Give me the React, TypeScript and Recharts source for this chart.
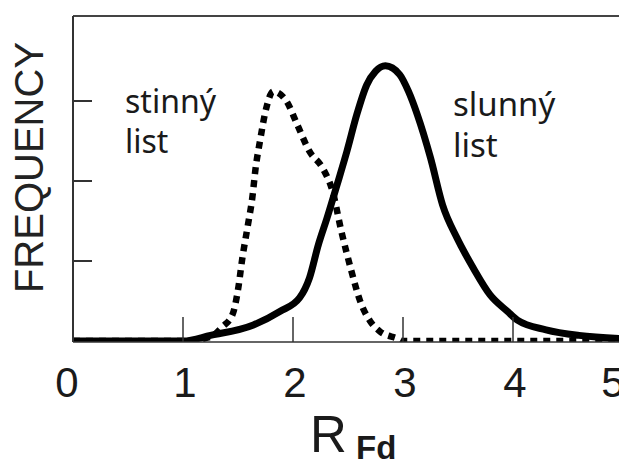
import React from 'react';
import { LineChart, Line, XAxis, YAxis, ReferenceLine } from 'recharts';

const xTicks = [0, 1, 2, 3, 4, 5];
const yTicks = [1, 2, 3];

// slunný list (solid)
const sunX = [0, 1.0, 1.25, 1.64, 1.88, 2.06, 2.15, 2.23, 2.31, 2.4, 2.49, 2.58, 2.67, 2.75, 2.84, 2.97, 3.05, 3.13, 3.25, 3.36, 3.49, 3.64, 3.79, 3.95, 4.04, 4.3, 4.6, 5.0];
const sunY = [0, 0, 0.07, 0.2, 0.37, 0.54, 0.79, 1.2, 1.54, 1.95, 2.37, 2.83, 3.2, 3.37, 3.44, 3.33, 3.12, 2.83, 2.29, 1.7, 1.29, 0.91, 0.58, 0.37, 0.26, 0.14, 0.07, 0.03];

// stinný list (dotted)
const shadeX = [0, 1.0, 1.25, 1.36, 1.45, 1.5, 1.54, 1.59, 1.63, 1.66, 1.7, 1.75, 1.82, 1.94, 2.04, 2.15, 2.27, 2.36, 2.44, 2.53, 2.61, 2.7, 2.79, 2.95, 3.0, 5.0];
const shadeY = [0, 0, 0.05, 0.18, 0.33, 0.64, 1.04, 1.45, 1.79, 2.16, 2.5, 2.87, 3.12, 3.0, 2.7, 2.37, 2.16, 1.87, 1.37, 0.88, 0.5, 0.25, 0.12, 0.03, 0, 0];

const sunData = sunX.map((x, i) => ({ x, y: sunY[i] }));
const shadeData = shadeX.map((x, i) => ({ x, y: shadeY[i] }));

const AX_FONT = 'Liberation Sans, Arial, Helvetica, sans-serif';
const NOTE_FONT = '"Noto Sans", "Open Sans", sans-serif';
const INK = '#1a1a1a';

const XTick = (props: any) => {
  const { x, y, payload } = props;
  const v = payload.value;
  const dx = v === 0 ? -6 : v === 5 ? -10 : 2;
  return (
    <g>
      {v > 0 && v < 5 && (
        <line x1={x} x2={x} y1={y} y2={y - 25} stroke="#333" strokeWidth={1.5} />
      )}
      <text x={x + dx} y={y + 55} textAnchor="middle" fontSize={42} fontFamily={AX_FONT} fill={INK}>
        {v}
      </text>
    </g>
  );
};

const YTick = (props: any) => {
  const { x, y } = props;
  return <line x1={x} x2={x + 19} y1={y} y2={y} stroke="#333" strokeWidth={2} />;
};

export default function App() {
  return (
    <LineChart
      width={619}
      height={460}
      margin={{ top: 8, right: 4, left: 0, bottom: 0 }}
      style={{ background: '#fff' }}
    >
      <XAxis
        type="number"
        dataKey="x"
        domain={[0, 5]}
        ticks={xTicks}
        allowDataOverflow
        height={126}
        tickSize={0}
        tickMargin={0}
        tick={<XTick />}
        axisLine={{ stroke: '#333', strokeWidth: 1.5 }}
        tickLine={false}
        interval={0}
      />
      <YAxis
        type="number"
        domain={[-0.0125, 4.0625]}
        ticks={yTicks}
        allowDataOverflow
        width={65}
        tickSize={0}
        tickMargin={0}
        tick={<YTick />}
        axisLine={{ stroke: '#333', strokeWidth: 2 }}
        tickLine={false}
        interval={0}
      />
      <ReferenceLine y={4.0625} stroke="#444" strokeWidth={2} ifOverflow="extendDomain" />
      <ReferenceLine x={5} stroke="#444" strokeWidth={2} ifOverflow="extendDomain" />
      <Line
        data={sunData}
        dataKey="y"
        type="monotone"
        stroke="#000"
        strokeWidth={7}
        dot={false}
        activeDot={false}
        isAnimationActive={false}
      />
      <Line
        data={shadeData}
        dataKey="y"
        type="monotone"
        stroke="#000"
        strokeWidth={6.5}
        strokeDasharray="7 6"
        strokeLinecap="butt"
        dot={false}
        activeDot={false}
        isAnimationActive={false}
      />
      <text
        x={35}
        y={159.5}
        transform="rotate(-90, 35, 159.5)"
        textAnchor="middle"
        fontSize={40}
        fontFamily={AX_FONT}
        fill="#222"
      >
        FREQUENCY
      </text>
      <text x={302} y={444} fontSize={51} fontFamily={AX_FONT} fill={INK}>R</text>
      <text x={348} y={451} fontSize={33} fontWeight="bold" fontFamily={AX_FONT} fill={INK}>Fd</text>
      <text x={117} y={105} fontSize={32} fontFamily={NOTE_FONT} fill={INK}>stinný</text>
      <text x={117} y={145} fontSize={32} fontFamily={NOTE_FONT} fill={INK}>list</text>
      <text x={445} y={108} fontSize={33} fontFamily={NOTE_FONT} fill={INK}>slunný</text>
      <text x={445} y={149} fontSize={33} fontFamily={NOTE_FONT} fill={INK}>list</text>
    </LineChart>
  );
}
